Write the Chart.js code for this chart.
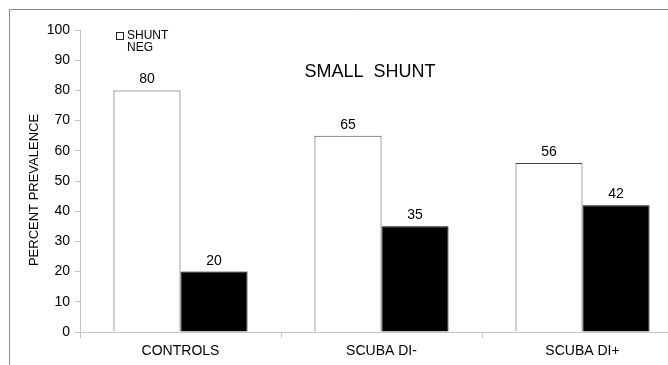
<!DOCTYPE html>
<html>
<head>
<meta charset="utf-8">
<script src="https://cdn.jsdelivr.net/npm/chart.js@4/dist/chart.umd.min.js"></script>
<style>
  html, body { margin: 0; padding: 0; background: #fff; overflow: hidden; }
  #wrap { position: relative; width: 700px; height: 365px; }
</style>
</head>
<body>
<div id="wrap"><canvas id="shuntChart" width="700" height="365"></canvas></div>
<script>
// small shunt - percent prevalence
const categories = ['CONTROLS', 'SCUBA DI-', 'SCUBA DI+']
const shuntNeg = [80, 65, 56]
const shuntPos = [20, 35, 42]
const yTicks = [0, 10, 20, 30, 40, 50, 60, 70, 80, 90, 100]

const FONT = 'Liberation Sans, Arial, sans-serif'

// frame, title, legend, axis title and value labels
const decorations = {
  id: 'decorations',
  beforeDraw(chart) {
    const c = chart.ctx
    c.save()
    c.fillStyle = '#fff'
    c.fillRect(0, 0, chart.width, chart.height)
    c.strokeStyle = '#8a8a8a'
    c.lineWidth = 1
    c.beginPath()
    c.moveTo(9.5, chart.height)
    c.lineTo(9.5, 9.5)
    c.lineTo(chart.width, 9.5)
    c.stroke()
    c.restore()
  },
  afterDatasetsDraw(chart) {
    const c = chart.ctx
    const area = chart.chartArea
    c.save()
    // value labels
    c.fillStyle = '#000'
    c.font = '14px ' + FONT
    c.textAlign = 'center'
    c.textBaseline = 'alphabetic'
    chart.data.datasets.forEach((ds, i) => {
      chart.getDatasetMeta(i).data.forEach((bar, j) => {
        c.fillText(String(ds.data[j]), bar.x, bar.y - 7)
      })
    })
    // title
    c.font = '18px ' + FONT
    c.textBaseline = 'middle'
    c.fillText('SMALL  SHUNT', area.left + 290, area.top + 42)
    // y axis title
    c.save()
    c.translate(34, 190)
    c.rotate(-Math.PI / 2)
    c.font = '13px ' + FONT
    c.fillText('PERCENT PREVALENCE', 0, 0)
    c.restore()
    // legend
    c.textAlign = 'left'
    c.font = '12px ' + FONT
    c.strokeStyle = '#222'
    c.fillStyle = '#fff'
    c.fillRect(116.5, 32.5, 7, 7)
    c.strokeRect(116.5, 32.5, 7, 7)
    c.fillStyle = '#000'
    c.fillText('SHUNT', 127, 36)
    c.fillText('NEG', 127, 48)
    c.restore()
  }
}

new Chart(document.getElementById('shuntChart'), {
  type: 'bar',
  data: {
    labels: categories,
    datasets: [
      {
        label: 'SHUNT NEG',
        data: shuntNeg,
        backgroundColor: '#fff',
        borderColor: '#444',
        borderWidth: 1,
        categoryPercentage: 0.667,
        barPercentage: 1
      },
      {
        label: 'SHUNT POS',
        data: shuntPos,
        backgroundColor: '#000',
        borderColor: '#000',
        borderWidth: 1,
        categoryPercentage: 0.667,
        barPercentage: 1
      }
    ]
  },
  options: {
    responsive: false,
    animation: false,
    devicePixelRatio: 1,
    layout: { padding: { left: 0, right: 17, top: 30, bottom: 0 } },
    plugins: {
      legend: { display: false },
      tooltip: { enabled: false }
    },
    scales: {
      x: {
        grid: { display: true, drawOnChartArea: false, tickLength: 6, color: '#c4c4c4', offset: true },
        border: { color: '#c4c4c4' },
        ticks: { color: '#000', font: { family: FONT, size: 14 }, padding: 5, autoSkip: false, maxRotation: 0 },
        afterFit(scale) { scale.height = 33 }
      },
      y: {
        min: 0,
        max: 100,
        afterBuildTicks(scale) { scale.ticks = yTicks.map(v => ({ value: v })) },
        grid: { display: true, drawOnChartArea: false, tickLength: 5, color: '#c4c4c4' },
        border: { color: '#c4c4c4' },
        ticks: { color: '#000', font: { family: FONT, size: 14 }, padding: 5, autoSkip: false },
        afterFit(scale) { scale.width = 80 }
      }
    }
  },
  plugins: [decorations]
})
</script>
</body>
</html>
